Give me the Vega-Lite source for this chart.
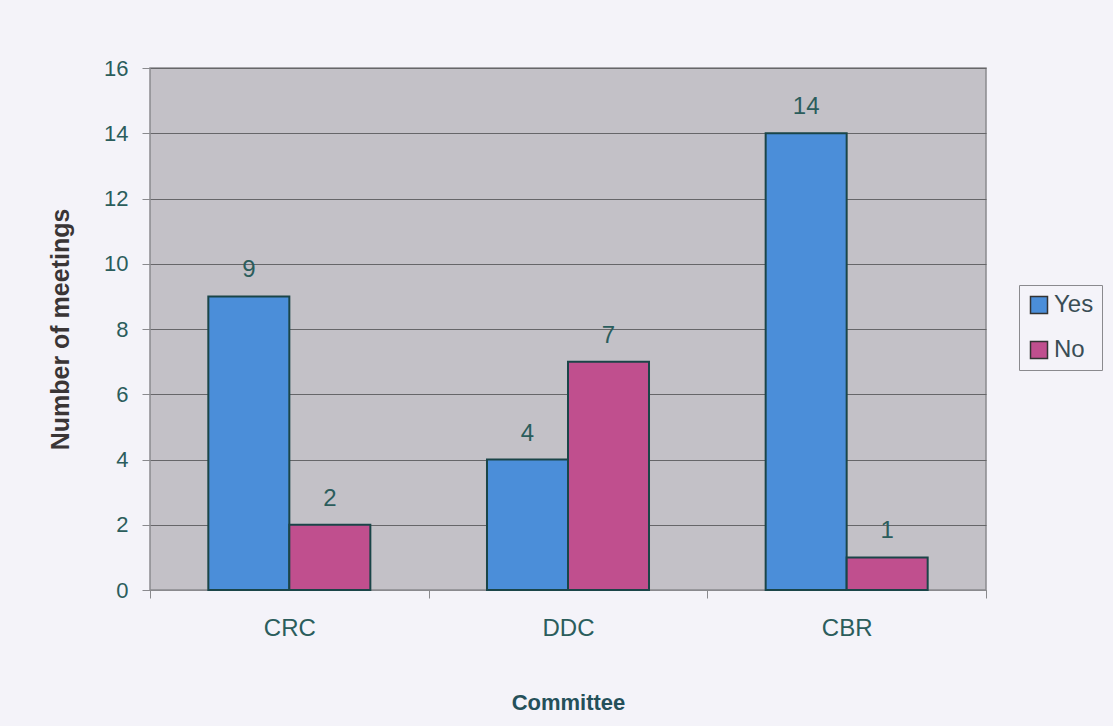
{
  "$schema": "https://vega.github.io/schema/vega-lite/v6.json",
  "autosize": {"type": "none"},
  "width": 836,
  "height": 522,
  "padding": {"left": 150, "top": 68, "right": 127, "bottom": 136},
  "background": "#f4f3f9",
  "config": {
    "font": "Liberation Sans",
    "view": {"fill": "#c3c1c7", "stroke": "#8a8a8e", "strokeWidth": 1.5}
  },
  "data": {
    "values": [
      {"Committee": "CRC", "Answer": "Yes", "Meetings": 9},
      {"Committee": "CRC", "Answer": "No", "Meetings": 2},
      {"Committee": "DDC", "Answer": "Yes", "Meetings": 4},
      {"Committee": "DDC", "Answer": "No", "Meetings": 7},
      {"Committee": "CBR", "Answer": "Yes", "Meetings": 14},
      {"Committee": "CBR", "Answer": "No", "Meetings": 1}
    ]
  },
  "encoding": {
    "x": {
      "field": "Committee", "type": "nominal", "sort": ["CRC", "DDC", "CBR"],
      "scale": {"paddingInner": 0, "paddingOuter": 0},
      "axis": {
        "title": "Committee", "labelAngle": 0, "tickBand": "extent",
        "labelFontSize": 24, "labelColor": "#2b5d5c", "labelPadding": 18,
        "tickSize": 8, "tickColor": "#8a8a8e", "domainColor": "#8a8a8e",
        "titleFontSize": 22, "titleFontWeight": "bold", "titleColor": "#24505a", "titlePadding": 52
      }
    },
    "xOffset": {
      "field": "Answer", "type": "nominal", "sort": ["Yes", "No"],
      "scale": {"paddingInner": 0, "paddingOuter": 0.72}
    },
    "y": {
      "field": "Meetings", "type": "quantitative",
      "scale": {"domain": [0, 16]},
      "axis": {
        "title": "Number of meetings", "values": [0, 2, 4, 6, 8, 10, 12, 14, 16],
        "grid": true, "gridColor": "#666669", "gridWidth": 1.2,
        "domain": false, "tickSize": 8, "tickColor": "#8a8a8e",
        "labelFontSize": 22, "labelColor": "#2b5d5c", "labelPadding": 14,
        "titleFontSize": 25, "titleFontWeight": "bold", "titleColor": "#3a3536", "titlePadding": 30
      }
    }
  },
  "layer": [
    {
      "mark": {"type": "bar", "stroke": "#1a4548", "strokeWidth": 2},
      "encoding": {
        "color": {
          "field": "Answer", "type": "nominal",
          "scale": {"domain": ["Yes", "No"], "range": ["#4b8ed9", "#c04f8e"]},
          "legend": {
            "title": null, "orient": "none", "legendX": 869, "legendY": 217,
            "symbolType": "square", "symbolSize": 289, "symbolStrokeColor": "#333333",
            "symbolStrokeWidth": 1.5, "symbolOpacity": 1,
            "labelFontSize": 24, "labelColor": "#3a4d55", "labelOffset": 3,
            "rowPadding": 21, "padding": 8,
            "strokeColor": "#8a8a8e", "fillColor": "#f4f3f9"
          }
        }
      }
    },
    {
      "mark": {"type": "text", "baseline": "middle", "dy": -26, "fontSize": 24, "color": "#2b5d5c"},
      "encoding": {"text": {"field": "Meetings", "type": "quantitative"}}
    }
  ]
}
